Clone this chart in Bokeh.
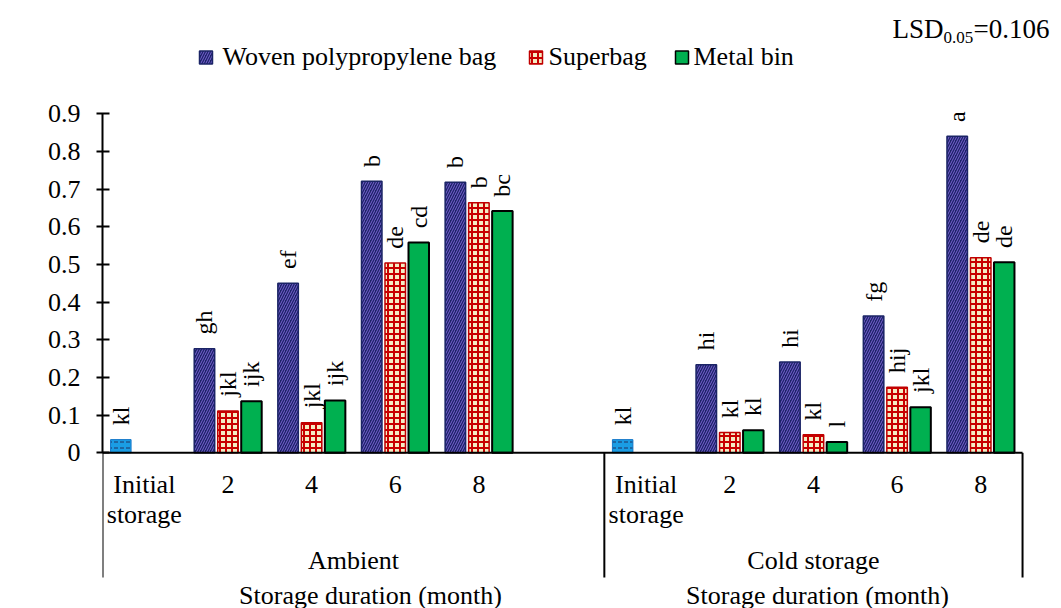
import math

from bokeh.core.properties import value
from bokeh.embed import file_html
from bokeh.models import ColumnDataSource, FixedTicker, Label, NumeralTickFormatter, Range1d
from bokeh.plotting import figure
from bokeh.resources import INLINE

# ---------------------------------------------------------------- data
conditions = ["Ambient", "Cold storage"]
months = ["2", "4", "6", "8"]
initial_text = ["Initial", "storage"]
series_names = ["Woven polypropylene bag", "Superbag", "Metal bin"]

initial_vigour = [0.035, 0.035]
initial_letters = ["kl", "kl"]

woven_ambient = [0.276, 0.450, 0.721, 0.718]
superbag_ambient = [0.111, 0.080, 0.504, 0.664]
metal_ambient = [0.137, 0.139, 0.558, 0.642]
woven_cold = [0.234, 0.241, 0.363, 0.840]
superbag_cold = [0.054, 0.048, 0.174, 0.518]
metal_cold = [0.060, 0.029, 0.121, 0.506]

letters_woven_ambient = ["gh", "ef", "b", "b"]
letters_superbag_ambient = ["jkl", "jkl", "de", "b"]
letters_metal_ambient = ["ijk", "ijk", "cd", "bc"]
letters_woven_cold = ["hi", "hi", "fg", "a"]
letters_superbag_cold = ["kl", "kl", "hij", "de"]
letters_metal_cold = ["kl", "l", "jkl", "de"]

y_ticks = [0, 0.1, 0.2, 0.3, 0.4, 0.5, 0.6, 0.7, 0.8, 0.9]
lsd_text = ("LSD", "0.05", "=0.106")

# ---------------------------------------------------------------- layout
W, H = 1061, 608
LEFT = 102            # width of the y-axis panel
CAT_PX = 83.64        # width of one category slot
Y0_PX = 452.3         # canvas row of y = 0
PX_PER_UNIT = 376.7   # canvas pixels per 1.0 of the index

group_start = [0, 6]  # first slot of each storage condition
group_slots = [6, 5]
PITCH = 0.281         # distance between neighbouring bars in a cluster
BAR_W = 0.245


def xpx(px):
    return (px - LEFT) / CAT_PX


def ypx(py):
    return (Y0_PX - py) / PX_PER_UNIT


SERIF = value("Liberation Serif")

styles = {
    "woven": dict(fill_color="#1C2368", hatch_pattern="right_diagonal_line",
                  hatch_color="#7A62D2", hatch_scale=5, hatch_weight=1.0,
                  line_color="#1B2466", line_width=1.5),
    "superbag": dict(fill_color="#F4EDC4", hatch_pattern="cross",
                     hatch_color="#C80000", hatch_scale=6, hatch_weight=2,
                     line_color="#C00000", line_width=1.5),
    "metal": dict(fill_color="#00B050", line_color="black", line_width=2),
    "initial": dict(fill_color="#1A9DE4", hatch_pattern="horizontal_dash",
                    hatch_color="#1F3060", hatch_scale=6, hatch_weight=1,
                    line_color="#1477C8", line_width=1),
}

p = figure(width=W, height=H, output_backend="svg", toolbar_location=None,
           x_range=Range1d(0, xpx(W)), y_range=Range1d(ypx(H), ypx(0)),
           x_axis_location=None, min_border_left=LEFT, min_border_right=0,
           min_border_top=0, min_border_bottom=0)
p.outline_line_color = None
p.grid.visible = False
p.background_fill_color = "white"
p.border_fill_color = "white"

# y axis
ax = p.yaxis[0]
ax.bounds = (0, 0.9)
ax.ticker = FixedTicker(ticks=y_ticks)
ax.formatter = NumeralTickFormatter(format="0.[0]")
ax.axis_line_width = 2
ax.axis_line_color = "black"
ax.major_tick_line_width = 2
ax.major_tick_in = 7
ax.major_tick_out = 6
ax.minor_tick_line_color = None
ax.major_label_standoff = 16
ax.major_label_text_font = "Liberation Serif"
ax.major_label_text_font_size = "26px"
ax.major_label_text_color = "black"

p.add_layout(Label(x=xpx(22), y=ypx(310), text="Seedling vigour index I",
                   angle=math.pi / 2, text_align="center", text_baseline="middle",
                   text_font="Liberation Serif", text_font_size="26px",
                   text_color="black"))

# ---------------------------------------------------------------- bars
series = [
    ("woven", woven_ambient, woven_cold, letters_woven_ambient, letters_woven_cold, -PITCH),
    ("superbag", superbag_ambient, superbag_cold, letters_superbag_ambient, letters_superbag_cold, 0.0),
    ("metal", metal_ambient, metal_cold, letters_metal_ambient, letters_metal_cold, PITCH),
]

LABEL_GAP = 0.038
label_x, label_y, label_t = [], [], []

for key, amb, cold, l_amb, l_cold, off in series:
    xs, tops, lets = [], [], []
    for g, vals, lets_g in ((0, amb, l_amb), (1, cold, l_cold)):
        for i, v in enumerate(vals):
            xs.append(group_start[g] + 1 + i + 0.5 + off)
            tops.append(v)
            lets.append(lets_g[i])
    src = ColumnDataSource(dict(x=xs, top=tops))
    p.vbar(x="x", top="top", bottom=0, width=BAR_W, source=src, **styles[key])
    label_x += xs
    label_y += [t + LABEL_GAP for t in tops]
    label_t += lets

init_x = [group_start[g] + 0.5 - PITCH for g in range(2)]
p.vbar(x=init_x, top=initial_vigour, bottom=0, width=BAR_W, **styles["initial"])
label_x += init_x
label_y += [v + LABEL_GAP for v in initial_vigour]
label_t += initial_letters

p.text(x=label_x, y=label_y, text=label_t, angle=math.pi / 2,
       text_align="left", text_baseline="middle", text_font=SERIF,
       text_font_size="24px", text_color="black")

# ---------------------------------------------------------------- category axis
total_slots = sum(group_slots)
p.segment(x0=[0], y0=[0], x1=[total_slots], y1=[0], line_color="black", line_width=2)
sep_x = [0, group_start[1], total_slots]
p.segment(x0=sep_x, y0=[0] * 3, x1=sep_x, y1=[ypx(577)] * 3,
          line_color="black", line_width=2)

tx, ty, tt = [], [], []
for g in range(2):
    c0 = group_start[g] + 0.5
    tx += [c0, c0]
    ty += [ypx(484), ypx(514)]
    tt += initial_text
    for i, m in enumerate(months):
        tx.append(group_start[g] + 1 + i + 0.5)
        ty.append(ypx(484))
        tt.append(m)
centres = [group_start[g] + group_slots[g] / 2 for g in range(2)]
tx += centres
ty += [ypx(560)] * 2
tt += conditions
tx += [xpx(370), xpx(817)]
ty += [ypx(595)] * 2
tt += ["Storage duration (month)"] * 2
p.text(x=tx, y=ty, text=tt, text_align="center", text_baseline="alphabetic",
       text_font=SERIF, text_font_size="26px", text_color="black")

# ---------------------------------------------------------------- legend
leg_box_x = [xpx(205.5), xpx(535.5), xpx(681.5)]
leg_text_x = [xpx(222), xpx(548), xpx(693)]
for bx, key in zip(leg_box_x, ["woven", "superbag", "metal"]):
    st = dict(styles[key])
    st["line_width"] = 1.5
    p.rect(x=[bx], y=[ypx(57)], width=13, height=13, width_units="screen",
           height_units="screen", **st)
p.text(x=leg_text_x, y=[ypx(56)] * 3, text=series_names, text_align="left",
       text_baseline="alphabetic", text_font=SERIF, text_font_size="26px",
       text_color="black")

# LSD note
p.text(x=[xpx(892)], y=[ypx(28)], text=[lsd_text[0]], text_align="left",
       text_baseline="alphabetic", text_font=SERIF, text_font_size="27px",
       text_color="black")
p.text(x=[xpx(943)], y=[ypx(37)], text=[lsd_text[1]], text_align="left",
       text_baseline="alphabetic", text_font=SERIF, text_font_size="17px",
       text_color="black")
p.text(x=[xpx(973)], y=[ypx(28)], text=[lsd_text[2]], text_align="left",
       text_baseline="alphabetic", text_font=SERIF, text_font_size="27px",
       text_color="black")

open("out.html", "w").write(file_html(p, INLINE))
